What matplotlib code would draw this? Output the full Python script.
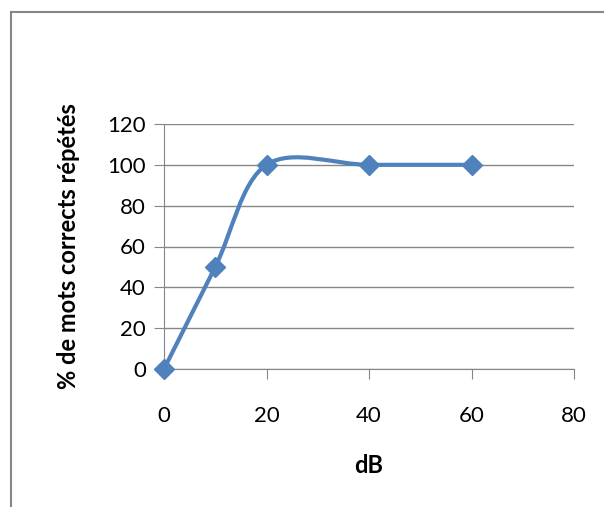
import matplotlib.pyplot as plt
from matplotlib.path import Path
from matplotlib.patches import PathPatch, Rectangle

# data
db = [0, 10, 20, 40, 60]
pct = [0, 50, 100, 100, 100]
xticks = [0, 20, 40, 60, 80]
yticks = [0, 20, 40, 60, 80, 100, 120]

blue = '#4F81BD'
grey = '#868686'

plt.rcParams['font.family'] = ['Lato', 'DejaVu Sans']

fig = plt.figure(figsize=(6.04, 5.07), dpi=100)
ax = fig.add_axes([164 / 604, 1 - 369 / 507, 410 / 604, 245 / 507])

# outer chart frame (cropped at right and bottom)
fig.patches.append(Rectangle((11 / 604, -0.05), 1.2, 1 - 12 / 507 + 0.05,
                             transform=fig.transFigure, fill=False,
                             edgecolor=grey, linewidth=1.5))

# smoothed line like Excel (bezier through points)
verts = [(db[0], pct[0])]
codes = [Path.MOVETO]
n = len(db)
for i in range(n - 1):
    p0 = (db[max(i - 1, 0)], pct[max(i - 1, 0)])
    p1 = (db[i], pct[i])
    p2 = (db[i + 1], pct[i + 1])
    p3 = (db[min(i + 2, n - 1)], pct[min(i + 2, n - 1)])
    c1 = (p1[0] + (p2[0] - p0[0]) / 6, p1[1] + (p2[1] - p0[1]) / 6)
    c2 = (p2[0] - (p3[0] - p1[0]) / 6, p2[1] - (p3[1] - p1[1]) / 6)
    verts += [c1, c2, p2]
    codes += [Path.CURVE4] * 3
ax.add_patch(PathPatch(Path(verts, codes), facecolor='none', edgecolor=blue,
                       linewidth=3, capstyle='round', joinstyle='round', zorder=3))
ax.plot(db, pct, linestyle='none', marker='D', markersize=10, color=blue,
        clip_on=False, zorder=4)

ax.set_xlim(0, 80)
ax.set_ylim(0, 120)
ax.set_xticks(xticks)
ax.set_yticks(yticks)
ax.grid(axis='y', color=grey, linewidth=1)
ax.set_axisbelow(True)
for s in ['top', 'right']:
    ax.spines[s].set_visible(False)
ax.spines['left'].set_color(grey)
ax.spines['bottom'].set_color(grey)
ax.tick_params(axis='y', length=7, color=grey, labelsize=16, pad=6)
ax.tick_params(axis='x', length=7, color=grey, labelsize=16, pad=20)

ax.set_xlabel('dB', fontsize=17, fontweight='bold', labelpad=20)
ax.set_ylabel('% de mots corrects répétés', fontsize=17, fontweight='bold', labelpad=20)

fig.savefig('out.png', dpi=100)
